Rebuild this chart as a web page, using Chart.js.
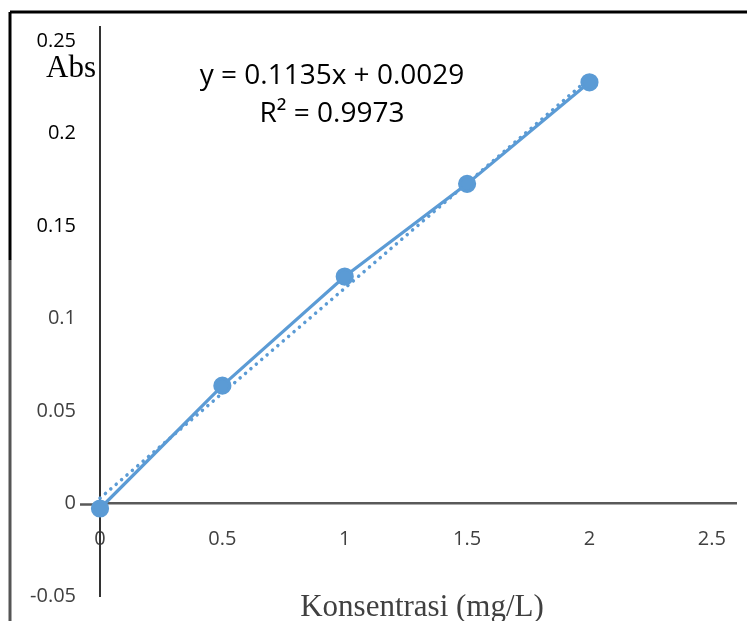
<!DOCTYPE html>
<html>
<head>
<meta charset="utf-8">
<script src="https://cdn.jsdelivr.net/npm/chart.js@4.4.0/dist/chart.umd.min.js"></script>
<style>
body { margin: 0; background: #fff; }
#chart { display: block; }
</style>
</head>
<body>
<canvas id="chart" width="747" height="621"></canvas>
<script>
// values
let concentrations = [0, 0.5, 1, 1.5, 2];
let absorbances = [-0.0027, 0.0637, 0.1227, 0.1728, 0.2277];
// linear trendline end points (y = 0.1135x + 0.0029)
let trendX = [0, 2];
let trendY = [0.0029, 0.2299];
let xTicks = [0, 0.5, 1, 1.5, 2, 2.5];
let yTicks = [-0.05, 0, 0.05, 0.1, 0.15, 0.2, 0.25];
let equationLines = ["y = 0.1135x + 0.0029", "R\u00b2 = 0.9973"];
let yTitle = "Abs";
let xTitle = "Konsentrasi (mg/L)";

let blue = "#5B9BD5";

function toPoints(xs, ys) {
    return xs.map((x, i) => ({x: x, y: ys[i]}));
}

let framePlugin = {
    id: "frame",
    beforeDraw(chart) {
        let ctx = chart.ctx;
        ctx.save();
        ctx.fillStyle = "#ffffff";
        ctx.fillRect(0, 0, chart.width, chart.height);
        ctx.restore();
    },
    beforeDatasetsDraw(chart) {
        // short tick at y = 0, left of the vertical axis
        let ctx = chart.ctx;
        let y = chart.scales.y;
        let py = Math.round(y.getPixelForValue(0)) + 0.5;
        ctx.save();
        ctx.strokeStyle = "#595959";
        ctx.lineWidth = 2.5;
        ctx.beginPath();
        ctx.moveTo(y.right - 20, py);
        ctx.lineTo(y.right, py);
        ctx.stroke();
        ctx.restore();
    },
    afterDraw(chart) {
        let ctx = chart.ctx;
        ctx.save();
        ctx.lineWidth = 3;
        ctx.strokeStyle = "#000";
        ctx.beginPath();
        ctx.moveTo(10, 12);
        ctx.lineTo(chart.width, 12);
        ctx.moveTo(10, 12);
        ctx.lineTo(10, 260);
        ctx.stroke();
        ctx.strokeStyle = "#555";
        ctx.beginPath();
        ctx.moveTo(10, 260);
        ctx.lineTo(10, chart.height);
        ctx.stroke();

        ctx.fillStyle = "#000";
        ctx.textAlign = "left";
        ctx.textBaseline = "alphabetic";
        ctx.font = "31px 'Liberation Serif'";
        ctx.fillText(yTitle, 46, 77);

        ctx.textAlign = "center";
        ctx.font = "28px 'Open Sans'";
        ctx.fillText(equationLines[0], 332, 84);
        ctx.fillText(equationLines[1], 332, 122);

        ctx.fillStyle = "#404040";
        ctx.font = "31px 'Liberation Serif'";
        ctx.fillText(xTitle, 422, 616);
        ctx.restore();
    }
};

let ctx = document.getElementById("chart").getContext("2d");
new Chart(ctx, {
    type: "scatter",
    data: {
        datasets: [
            {
                label: "Abs",
                data: toPoints(concentrations, absorbances),
                showLine: true,
                borderColor: blue,
                backgroundColor: blue,
                borderWidth: 3.2,
                pointRadius: 7.5,
                pointHoverRadius: 7.5,
                clip: false,
                order: 1
            },
            {
                label: "Linear",
                data: toPoints(trendX, trendY),
                showLine: true,
                borderColor: blue,
                borderWidth: 3.5,
                borderDash: [0.1, 7],
                borderCapStyle: "round",
                pointRadius: 0,
                clip: false,
                order: 2
            }
        ]
    },
    options: {
        responsive: false,
        animation: false,
        layout: {padding: {left: 30, top: 27, right: 7, bottom: 25}},
        plugins: {
            legend: {display: false},
            tooltip: {enabled: false}
        },
        scales: {
            x: {
                type: "linear",
                position: {y: 0},
                min: 0,
                max: 2.6,
                afterBuildTicks: scale => { scale.ticks = xTicks.map(v => ({value: v})); },
                afterFit: scale => { scale.paddingLeft = 0; scale.paddingRight = 0; },
                grid: {display: false, drawTicks: false},
                border: {display: true, color: "#595959", width: 2.5},
                ticks: {
                    padding: 24,
                    color: "#404040",
                    font: {family: "'Open Sans'", size: 20},
                    callback: v => String(v)
                }
            },
            y: {
                type: "linear",
                position: "left",
                min: -0.05,
                max: 0.2576,
                afterBuildTicks: scale => { scale.ticks = yTicks.map(v => ({value: v})); },
                afterFit: scale => { scale.width = 70; scale.paddingTop = 0; scale.paddingBottom = 0; },
                grid: {display: false, drawTicks: false},
                border: {display: true, color: "#333", width: 2},
                ticks: {
                    padding: 24,
                    color: c => c.tick.value >= 0.15 ? "#000" : "#404040",
                    font: {family: "'Open Sans'", size: 20},
                    callback: v => String(v)
                }
            }
        }
    },
    plugins: [framePlugin]
});
</script>
</body>
</html>
